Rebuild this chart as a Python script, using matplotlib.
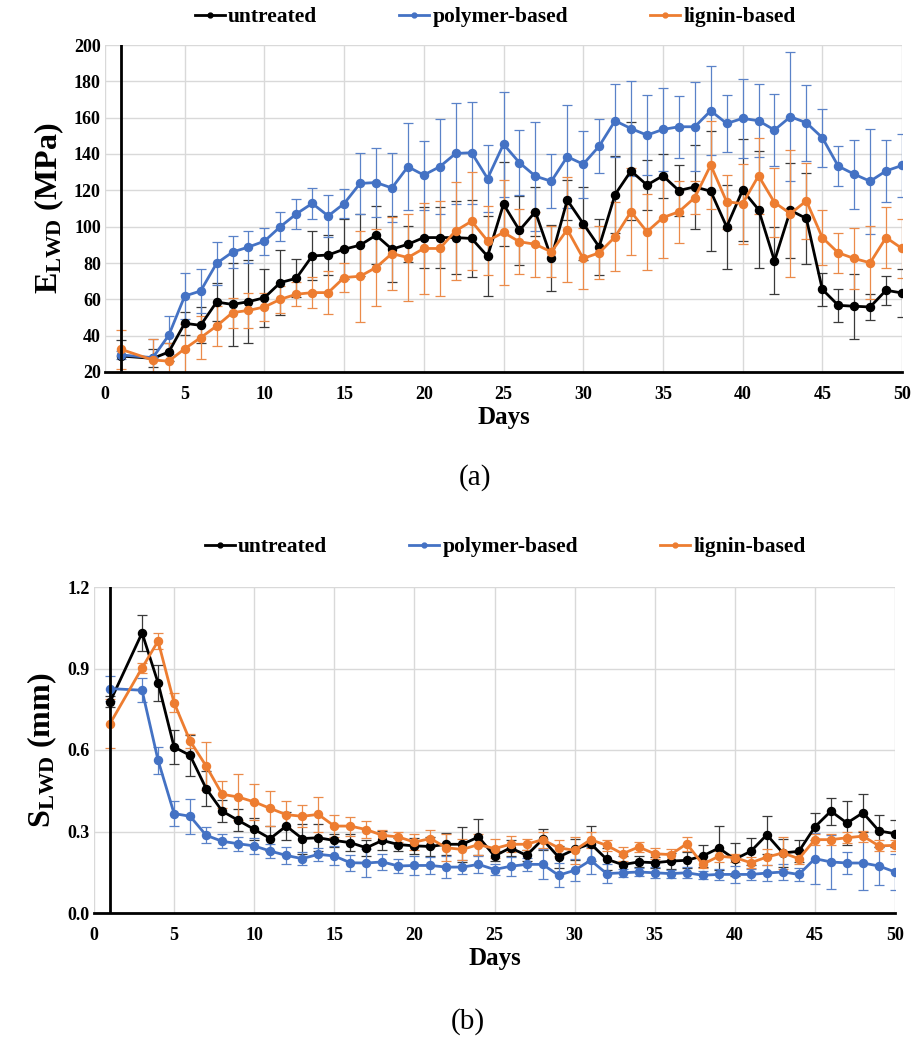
import matplotlib
matplotlib.use("Agg")
import matplotlib.pyplot as plt
from matplotlib.lines import Line2D

plt.rcParams['font.family'] = ['Liberation Serif', 'DejaVu Serif']
plt.rcParams['mathtext.fontset'] = 'custom'
plt.rcParams['mathtext.rm'] = 'Liberation Serif'
plt.rcParams['mathtext.bf'] = 'Liberation Serif:bold'
plt.rcParams['mathtext.it'] = 'Liberation Serif:italic'

# ---- data -------------------------------------------------------------
days = [1, 3, 4, 5, 6, 7, 8, 9, 10, 11, 12, 13, 14, 15, 16, 17, 18, 19, 20,
        21, 22, 23, 24, 25, 26, 27, 28, 29, 30, 31, 32, 33, 34, 35, 36, 37,
        38, 39, 40, 41, 42, 43, 44, 45, 46, 47, 48, 49, 50]

series_names = ["untreated", "polymer-based", "lignin-based"]
series_colors = ["#000000", "#4472C4", "#ED7D31"]
error_colors = ["#3a3a3a", "#5a82c8", "#eb8b4a"]

# Elastic modulus E_LWD (MPa)
e_untreated = [28.8, 27.5, 31.0, 46.8, 45.7, 58.5, 57.2, 58.7, 60.9, 69.2, 71.6, 83.9, 84.4,
               87.6, 89.8, 95.3, 87.6, 90.3, 94.0, 94.0, 94.0, 93.5, 83.7, 112.4, 98.0, 108.2,
               82.8, 114.6, 101.7, 88.9, 117.7, 130.7, 122.9, 128.0, 119.9, 121.9, 119.5, 99.9,
               120.1, 109.4, 81.2, 109.0, 104.5, 65.5, 56.7, 56.2, 55.8, 65.0, 63.5]
e_untreated_err = [9, 5, 5, 6.5, 10, 10.7, 23, 23, 16, 18, 10.5, 13.5, 11,
                   16.5, 17, 16, 18, 10, 17, 17, 20, 21, 22, 23, 19, 13.5,
                   18, 11, 20, 15.5, 21, 27, 14, 12, 14, 23, 33, 23,
                   28, 32, 18.5, 26, 25, 9, 9, 18, 7, 8, 13]

e_polymer = [29.4, 27.9, 40.2, 61.8, 64.6, 79.8, 86.0, 88.8, 92.0, 100.0, 107.0, 112.8, 105.9,
             112.7, 123.8, 124.3, 121.3, 133.0, 128.4, 133.0, 140.3, 140.7, 126.5, 145.4, 135.2,
             127.8, 125.0, 138.5, 134.4, 144.3, 158.3, 154.0, 150.4, 153.5, 155.0, 155.0, 163.8,
             156.8, 159.6, 158.3, 153.2, 160.5, 157.2, 149.0, 133.3, 128.9, 125.0, 130.7, 133.7]
e_polymer_err = [2, 10.5, 10.5, 12.7, 12, 12, 8.7, 8.8, 7.4, 8, 8.4, 8.7, 11.5,
                 8, 17, 19, 19, 24, 19, 26, 28, 28, 18.5, 29, 18,
                 30, 15, 28.5, 18.5, 15, 20, 26, 22, 23, 17, 24.5, 24.6,
                 15.5, 21.6, 20, 19.8, 35.6, 21, 16, 11, 19, 29, 17, 17.5]

e_lignin = [32.5, 26.6, 26.0, 32.8, 38.9, 45.3, 52.7, 53.9, 55.8, 60.0, 62.8, 63.7, 63.7,
            72.0, 72.7, 77.5, 85.2, 83.0, 88.0, 88.0, 97.7, 103.0, 92.2, 96.8, 91.7, 90.3,
            86.1, 98.4, 82.5, 85.6, 94.4, 108.2, 97.2, 105.0, 108.2, 116.0, 133.9, 113.7,
            112.7, 128.0, 113.3, 107.2, 114.2, 94.0, 85.6, 82.5, 80.1, 94.0, 88.0]
e_lignin_err = [10.6, 11.7, 10, 13.4, 11.9, 11, 8.3, 9.5, 7.6, 7.6, 6.7, 8.6, 11.9,
                8, 25, 21, 20, 24, 25, 26, 27, 27, 19, 29, 18, 18,
                14, 29, 17, 14.6, 19, 24, 21, 22, 17, 9, 24, 15,
                22, 21, 19, 35, 21, 15, 11, 17, 20, 17, 16]

# Deflection S_LWD (mm)
s_untreated = [0.777, 1.031, 0.847, 0.611, 0.580, 0.458, 0.375, 0.341, 0.308, 0.274, 0.320,
               0.274, 0.277, 0.267, 0.259, 0.240, 0.267, 0.252, 0.247, 0.245, 0.253, 0.253,
               0.280, 0.210, 0.240, 0.212, 0.271, 0.206, 0.234, 0.255, 0.198, 0.178, 0.188,
               0.185, 0.191, 0.194, 0.210, 0.239, 0.198, 0.227, 0.288, 0.221, 0.227, 0.317,
               0.375, 0.331, 0.369, 0.302, 0.292]
s_untreated_err = [0.02, 0.065, 0.065, 0.063, 0.075, 0.065, 0.04, 0.04, 0.04, 0.045, 0.05,
                   0.055, 0.05, 0.025, 0.03, 0.03, 0.035, 0.025, 0.03, 0.035, 0.04, 0.065,
                   0.065, 0.02, 0.03, 0.02, 0.04, 0.04, 0.04, 0.065, 0.04, 0.03, 0.02,
                   0.02, 0.03, 0.03, 0.04, 0.08, 0.06, 0.05, 0.07, 0.05, 0.04, 0.05,
                   0.05, 0.08, 0.07, 0.06, 0.05]

s_polymer = [0.826, 0.820, 0.562, 0.366, 0.356, 0.286, 0.264, 0.255, 0.247, 0.228, 0.212,
             0.200, 0.216, 0.210, 0.185, 0.184, 0.188, 0.173, 0.175, 0.175, 0.169, 0.169,
             0.179, 0.160, 0.172, 0.179, 0.179, 0.139, 0.157, 0.194, 0.145, 0.148, 0.151,
             0.148, 0.145, 0.148, 0.139, 0.142, 0.142, 0.142, 0.147, 0.151, 0.142, 0.200,
             0.188, 0.184, 0.184, 0.173, 0.151]
s_polymer_err = [0.045, 0.045, 0.05, 0.045, 0.065, 0.03, 0.025, 0.025, 0.03, 0.025, 0.03,
                 0.025, 0.025, 0.035, 0.03, 0.05, 0.03, 0.025, 0.035, 0.03, 0.04, 0.025,
                 0.03, 0.02, 0.035, 0.025, 0.055, 0.045, 0.04, 0.05, 0.035, 0.015, 0.015,
                 0.02, 0.015, 0.02, 0.015, 0.02, 0.03, 0.02, 0.03, 0.03, 0.025, 0.095,
                 0.1, 0.04, 0.1, 0.07, 0.065]

s_lignin = [0.697, 0.902, 1.001, 0.774, 0.633, 0.541, 0.437, 0.427, 0.409, 0.385, 0.362,
            0.356, 0.363, 0.320, 0.320, 0.307, 0.286, 0.280, 0.261, 0.274, 0.240, 0.234,
            0.252, 0.237, 0.253, 0.253, 0.270, 0.240, 0.231, 0.270, 0.249, 0.218, 0.243,
            0.218, 0.215, 0.255, 0.179, 0.209, 0.204, 0.185, 0.206, 0.221, 0.200, 0.270,
            0.270, 0.277, 0.283, 0.247, 0.249]
s_lignin_err = [0.09, 0.02, 0.03, 0.035, 0.025, 0.09, 0.05, 0.085, 0.065, 0.065, 0.05,
                0.04, 0.065, 0.04, 0.035, 0.03, 0.02, 0.02, 0.03, 0.03, 0.05, 0.04,
                0.04, 0.035, 0.03, 0.02, 0.03, 0.03, 0.05, 0.03, 0.02, 0.025, 0.02,
                0.02, 0.02, 0.025, 0.015, 0.02, 0.015, 0.02, 0.03, 0.06, 0.02, 0.02,
                0.02, 0.02, 0.02, 0.02, 0.02]

x_ticks = [0, 5, 10, 15, 20, 25, 30, 35, 40, 45, 50]
e_ticks = [20, 40, 60, 80, 100, 120, 140, 160, 180, 200]
s_ticks = [0.0, 0.3, 0.6, 0.9, 1.2]

# ---- figure -----------------------------------------------------------
W, H = 913, 1042
fig = plt.figure(figsize=(W / 100, H / 100), dpi=100)


def px_axes(left, top, right, bottom):
    return fig.add_axes([left / W, 1 - bottom / H, (right - left) / W, (bottom - top) / H])


ax_e = px_axes(105, 45, 902, 372)
ax_s = px_axes(94, 587, 895, 913)

GRID = "#d9d9d9"
TICK_FONT = dict(family="Liberation Serif", weight="bold", size=13)


def style_axes(ax, yticks, ylim, yfmt, ylabel):
    ax.set_xlim(0, 50)
    ax.set_ylim(*ylim)
    ax.set_xticks(x_ticks)
    ax.set_yticks(yticks)
    ax.set_yticklabels([yfmt.format(v) for v in yticks], fontdict=TICK_FONT)
    ax.set_xticklabels([str(v) for v in x_ticks], fontdict=TICK_FONT)
    ax.tick_params(axis="both", length=0)
    ax.tick_params(axis="x", pad=10)
    ax.tick_params(axis="y", pad=3)
    ax.grid(True, color=GRID, linewidth=1.0, zorder=0)
    ax.set_axisbelow(True)
    for side in ("top", "right", "left"):
        ax.spines[side].set_visible(False)
    ax.spines["bottom"].set_color("black")
    ax.spines["bottom"].set_linewidth(2.0)
    ax.spines["bottom"].set_zorder(5)
    # vertical axis line crosses at day 1
    ax.axvline(1, color="black", linewidth=2.0, zorder=5)
    ax.set_xlabel("Days", fontsize=18, fontweight="bold", labelpad=2)
    ax.set_ylabel(ylabel, fontsize=23, fontweight="bold", labelpad=6)


def draw_series(ax, values, errors):
    for vals, errs, color, ecol in zip(values, errors, series_colors, error_colors):
        ax.errorbar(days, vals, yerr=errs, color=color, ecolor=ecol,
                    elinewidth=0.9, capsize=3.5, capthick=0.9,
                    linewidth=2.0, marker="o", markersize=5.8, zorder=3)


draw_series(ax_e, [e_untreated, e_polymer, e_lignin],
            [e_untreated_err, e_polymer_err, e_lignin_err])
style_axes(ax_e, e_ticks, (20, 200), "{:d}", r"$\mathbf{E_{LWD}}$ (MPa)")

draw_series(ax_s, [s_untreated, s_polymer, s_lignin],
            [s_untreated_err, s_polymer_err, s_lignin_err])
style_axes(ax_s, s_ticks, (0, 1.2), "{:.1f}", r"$\mathbf{S_{LWD}}$ (mm)")

handles = [Line2D([], [], color=c, marker="o", markersize=3.5, linewidth=2.0)
           for c in series_colors]
legend_kw = dict(ncol=3, frameon=False, handlelength=1.4, handletextpad=0.15,
                 columnspacing=3.8, prop=dict(family="Liberation Serif", weight="bold", size=15.5))
fig.legend(handles, series_names, loc="center", bbox_to_anchor=(495 / W, 1 - 17 / H), **legend_kw)
fig.legend(handles, series_names, loc="center", bbox_to_anchor=(505 / W, 1 - 547 / H), **legend_kw)

fig.text(475 / W, 1 - 478 / H, "(a)", ha="center", va="center", fontsize=21)
fig.text(468 / W, 1 - 1022 / H, "(b)", ha="center", va="center", fontsize=21)

fig.savefig("out.png", dpi=100)
